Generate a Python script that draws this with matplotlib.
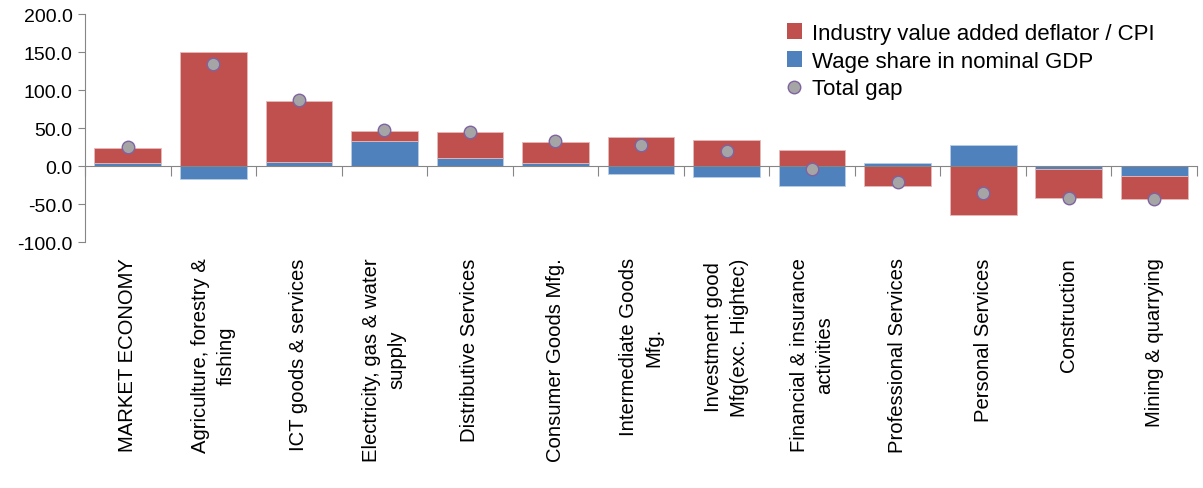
import numpy as np
import matplotlib.pyplot as plt
from matplotlib.lines import Line2D
from matplotlib.patches import Patch

plt.rcParams['font.family'] = ['Liberation Sans', 'DejaVu Sans']

categories = [
    "MARKET ECONOMY",
    "Agriculture, forestry &\nfishing",
    "ICT goods & services",
    "Electricity, gas & water\nsupply",
    "Distributive Services",
    "Consumer Goods Mfg.",
    "Intermediate Goods\nMfg.",
    "Investment good\nMfg(exc. Hightec)",
    "Financial & insurance\nactivities",
    "Professional Services",
    "Personal Services",
    "Construction",
    "Mining & quarrying",
]
wage_share = [3.5, -17.0, 6.0, 33.3, 10.0, 3.9, -10.5, -14.9, -26.7, 3.9, 27.6, -3.9, -13.6]
deflator_cpi = [20.2, 150.0, 80.0, 13.2, 34.3, 27.7, 37.7, 34.2, 21.0, -26.3, -64.5, -38.2, -29.8]
total_gap = [24.6, 133.8, 86.8, 47.4, 45.0, 32.5, 27.6, 20.2, -4.4, -21.0, -35.9, -42.0, -43.9]

RED = '#C0504D'
BLUE = '#4F81BD'
GRAY = '#868686'

x = np.arange(len(categories))
wage = np.array(wage_share)
defl = np.array(deflator_cpi)
# excel style stacking: positives on positives, negatives on negatives
base = np.where(np.sign(defl) == np.sign(wage), wage, 0.0)

fig = plt.figure(figsize=(12.03, 4.89), dpi=100)
ax = fig.add_axes([0.0707, 0.503, 0.9243, 0.466])

ax.bar(x, wage, width=0.78, color=BLUE, edgecolor='#b9cde5', linewidth=0.6, zorder=2)
ax.bar(x, defl, width=0.78, bottom=base, color=RED, edgecolor='#e6b9b8', linewidth=0.6, zorder=2)
ax.plot(x, total_gap, 'o', ms=9, mfc='#A5A5A5', mec='#7F63A1', mew=1.0, zorder=4)

ax.set_xlim(-0.5, len(categories) - 0.5)
ax.set_ylim(-100, 200)
ax.set_yticks(np.arange(-100, 201, 50))
ax.set_yticklabels([f"{v:.1f}" for v in np.arange(-100, 201, 50)], fontsize=14)

for s in ['top', 'right']:
    ax.spines[s].set_visible(False)
ax.spines['left'].set_color(GRAY)
ax.spines['bottom'].set_color(GRAY)
ax.spines['bottom'].set_position(('data', 0))
ax.spines['bottom'].set_zorder(3)
ax.set_xticks(np.arange(len(categories) + 1) - 0.5)
ax.set_xticklabels([])
ax.tick_params(axis='x', direction='out', length=7, color=GRAY)
ax.tick_params(axis='y', direction='out', length=5, color=GRAY, pad=4)

# category labels below the plot area
ax2 = ax.twiny()
ax2.set_xlim(ax.get_xlim())
ax2.xaxis.set_ticks_position('bottom')
ax2.xaxis.set_label_position('bottom')
for s in ax2.spines.values():
    s.set_visible(False)
ax2.set_xticks(x)
ax2.set_xticklabels(categories, rotation=90, fontsize=14.6, va='top', ha='center',
                    multialignment='center', linespacing=1.45)
ax2.tick_params(axis='x', length=0, pad=11)

handles = [
    Patch(facecolor=RED),
    Patch(facecolor=BLUE),
    Line2D([], [], marker='o', ls='', ms=9, mfc='#A5A5A5', mec='#7F63A1', mew=1.0),
]
labels = ["Industry value added deflator / CPI", "Wage share in nominal GDP", "Total gap"]
ax.legend(handles, labels, loc='upper left', bbox_to_anchor=(0.623, 1.0), frameon=False,
          fontsize=16, handlelength=0.7, handleheight=0.7, handletextpad=0.45,
          labelspacing=0.3, borderaxespad=0)

fig.savefig('out.png', dpi=100)
